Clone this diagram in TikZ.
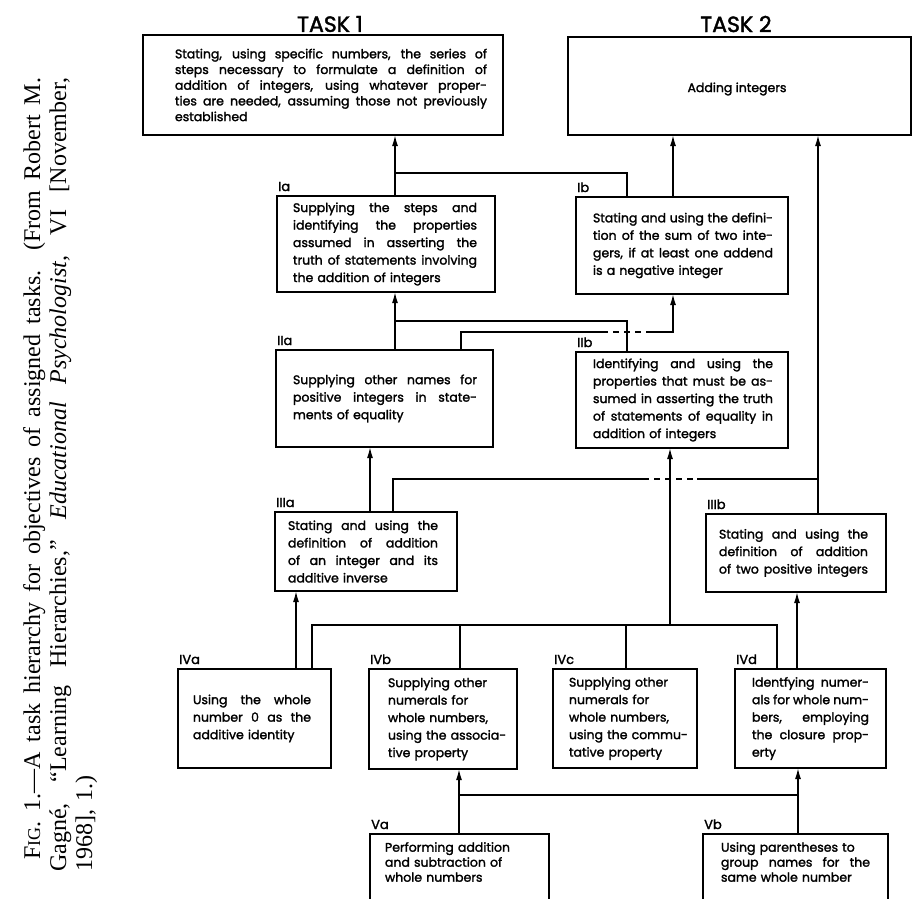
\documentclass[tikz,border=0pt]{standalone}
\usepackage{fontspec}
\setmainfont{Poppins}[FakeBold=1.8]
\newfontfamily\capfont{Liberation Serif}
\usetikzlibrary{arrows.meta}
\newcommand\jline[1]{\makebox[\hsize][s]{\spaceskip=0pt\xspaceskip=0pt #1}\\}
\newcommand\jlast[1]{\makebox[\hsize][s]{\spaceskip=0pt\xspaceskip=0pt #1}}
\tikzset{
  box/.style={draw, line width=1.8pt, inner sep=0pt, outer sep=0pt},
  txt/.style={inner sep=0pt, align=left, execute at begin node={\parindent=0pt},
              font=\fontsize{12.5}{17.5}\selectfont},
  lbl/.style={inner sep=0pt, anchor=base west, font=\fontsize{13}{13}\selectfont},
  conn/.style={line width=1.5pt},
  arr/.style={conn, -{Latex[length=11pt,width=6pt]}},
  dsh/.style={conn, dash pattern=on 6pt off 5pt},
  tasklbl/.style={inner sep=0pt, font=\fontsize{22}{22}\selectfont},
}
\begin{document}
\begin{tikzpicture}[x=1pt,y=-1pt]
\useasboundingbox (0,0) rectangle (914,899);
\fill[white] (0,0) rectangle (914,899);
\clip (0,0) rectangle (914,899);

% caption
\node[rotate=90, anchor=north west, inner sep=0pt, text width=794pt, align=left,
      execute at begin node={\parindent=0pt},
      font=\capfont\fontsize{24}{26}\selectfont] (cap) at (23,872)
{\jline{\hspace*{12pt}F{\fontsize{18}{18}\selectfont IG}. 1.—A task hierarchy for objectives of assigned tasks. (From Robert M.}
\jline{Gagné, “Learning Hierarchies,” \textit{Educational Psychologist,} VI [November,}
1968], 1.)};

% task titles
\node[tasklbl] (t1lab) at (330,24) {TASK 1};
\node[tasklbl] (t2lab) at (736,24) {TASK 2};

% boxes
\node[box, minimum width=360pt, minimum height=100pt] (T1) at (323,85) {};
\node[txt, text width=312pt, font=\fontsize{12.5}{15.7}\selectfont] (T1t) at (331,85)
{\jline{Stating, using specific numbers, the series of}
\jline{steps necessary to formulate a definition of}
\jline{addition of integers, using whatever proper-}
\jline{ties are needed, assuming those not previously}
established};

\node[box, minimum width=343pt, minimum height=98pt] (T2) at (739.5,86) {};
\node[txt] (T2t) at (737,89) {Adding integers};

\node[box, minimum width=218pt, minimum height=96pt] (Ia) at (386,244) {};
\node[txt, text width=184pt] (Iat) at (385,244)
{\jline{Supplying the steps and}
\jline{identifying the properties}
\jline{assumed in asserting the}
\jline{truth of statements involving}
the addition of integers};

\node[box, minimum width=212pt, minimum height=97pt] (Ib) at (682,245.5) {};
\node[txt, text width=180pt] (Ibt) at (683,245.5)
{\jline{Stating and using the defini-}
\jline{tion of the sum of two inte-}
\jline{gers, if at least one addend}
is a negative integer};

\node[box, minimum width=217pt, minimum height=97pt] (IIa) at (384.5,398.5) {};
\node[txt, text width=184pt] (IIat) at (385,398.5)
{\jline{Supplying other names for}
\jline{positive integers in state-}
ments of equality};

\node[box, minimum width=212pt, minimum height=96pt] (IIb) at (682,400) {};
\node[txt, text width=180pt] (IIbt) at (683,400)
{\jline{Identifying and using the}
\jline{properties that must be as-}
\jline{sumed in asserting the truth}
\jline{of statements of equality in}
addition of integers};

\node[box, minimum width=182pt, minimum height=79pt] (IIIa) at (366,551.5) {};
\node[txt, text width=150pt] (IIIat) at (363,551.5)
{\jline{Stating and using the}
\jline{definition of addition}
\jline{of an integer and its}
additive inverse};

\node[box, minimum width=180pt, minimum height=78pt] (IIIb) at (796,553) {};
\node[txt, text width=149pt] (IIIbt) at (793.5,553)
{\jline{Stating and using the}
\jline{definition of addition}
\jlast{of two positive integers}};

\node[box, minimum width=153pt, minimum height=99pt] (IVa) at (254.5,718.5) {};
\node[txt, text width=118pt] (IVat) at (252,718.5)
{\jline{Using the whole}
\jline{number 0 as the}
additive identity};

\node[box, minimum width=148pt, minimum height=100pt] (IVb) at (443,719) {};
\node[txt, text width=126pt] (IVbt) at (451,719)
{Supplying other\\
numerals for\\
whole numbers,\\
using the associa-\\
tive property};

\node[box, minimum width=144pt, minimum height=99pt] (IVc) at (625,718.5) {};
\node[txt, text width=124pt] (IVct) at (631,718.5)
{Supplying other\\
numerals for\\
whole numbers,\\
using the commu-\\
tative property};

\node[box, minimum width=151pt, minimum height=99pt] (IVd) at (810.5,718.5) {};
\node[txt, text width=117pt] (IVdt) at (810.5,718.5)
{\jline{Identfying numer-}
\jline{als for whole num-}
\jline{bers, employing}
\jline{the closure prop-}
erty};

\node[box, minimum width=179pt, minimum height=96pt] (Va) at (459.5,882) {};
\node[txt, text width=145pt, font=\fontsize{12.5}{15}\selectfont] (Vat) at (457.5,862)
{Performing addition\\
and subtraction of\\
whole numbers};

\node[box, minimum width=185pt, minimum height=96pt] (Vb) at (795.5,882) {};
\node[txt, text width=149pt, font=\fontsize{12.5}{15}\selectfont] (Vbt) at (795.5,862)
{Using parentheses to\\
\jline{group names for the}
same whole number};

% labels
\node[lbl] (Ial) at ([shift={(1,-5)}]Ia.north west) {Ia};
\node[lbl] (Ibl) at ([shift={(1,-5)}]Ib.north west) {Ib};
\node[lbl] (IIal) at ([shift={(1,-5)}]IIa.north west) {IIa};
\node[lbl] (IIbl) at ([shift={(1,-5)}]IIb.north west) {IIb};
\node[lbl] (IIIal) at ([shift={(1,-5)}]IIIa.north west) {IIIa};
\node[lbl] (IIIbl) at ([shift={(1,-5)}]IIIb.north west) {IIIb};
\node[lbl] (IVal) at ([shift={(1,-5)}]IVa.north west) {IVa};
\node[lbl] (IVbl) at ([shift={(1,-5)}]IVb.north west) {IVb};
\node[lbl] (IVcl) at ([shift={(1,-5)}]IVc.north west) {IVc};
\node[lbl] (IVdl) at ([shift={(1,-5)}]IVd.north west) {IVd};
\node[lbl] (Val) at ([shift={(1,-5)}]Va.north west) {Va};
\node[lbl] (Vbl) at ([shift={(1,-5)}]Vb.north west) {Vb};

% columns and rows
\coordinate (x296) at (296,0);
\coordinate (x312) at (312,0);
\coordinate (x370) at (370,0);
\coordinate (x393) at (393,0);
\coordinate (x395) at (395,0);
\coordinate (x459) at (459,0);
\coordinate (x460) at (460,0);
\coordinate (x461) at (461,0);
\coordinate (x602) at (602,0);
\coordinate (x626) at (626,0);
\coordinate (x627) at (627,0);
\coordinate (x643) at (643,0);
\coordinate (x652) at (652,0);
\coordinate (x670) at (670,0);
\coordinate (x673) at (673,0);
\coordinate (x697) at (697,0);
\coordinate (x777) at (777,0);
\coordinate (x797) at (797,0);
\coordinate (x798) at (798,0);
\coordinate (x818) at (818,0);
\coordinate (y173) at (0,173);
\coordinate (y321) at (0,321);
\coordinate (y332) at (0,332);
\coordinate (y479) at (0,479);
\coordinate (y625) at (0,625);
\coordinate (y795) at (0,795);

% connectors
\draw[arr] (Ia.north -| x395) -- (T1.south -| x395);
\draw[conn] (Ib.north -| x627) |- (y173 -| x395);
\draw[arr] (Ib.north -| x673) -- (T2.south -| x673);
\draw[arr] (IIa.north -| x395) -- (Ia.south -| x395);
\draw[conn] (IIb.north -| x627) |- (y321 -| x395);
\draw[conn] (IIa.north -| x461) |- (y332 -| x602);
\draw[dsh] (y332 -| x602) -- (y332 -| x652);
\draw[arr] (y332 -| x652) -| (Ib.south -| x673);
\draw[arr] (IIIa.north -| x370) -- (IIa.south -| x370);
\draw[conn] (IIIa.north -| x393) |- (y479 -| x643);
\draw[dsh] (y479 -| x643) -- (y479 -| x697);
\draw[conn] (y479 -| x697) -- (y479 -| x818);
\draw[arr] (IIIb.north -| x818) -- (T2.south -| x818);
\draw[arr] (y625 -| x670) -- (IIb.south -| x670);
\draw[conn] (IVa.north -| x312) |- (y625 -| x777) -- (IVd.north -| x777);
\draw[conn] (IVb.north -| x460) -- (y625 -| x460);
\draw[conn] (IVc.north -| x626) -- (y625 -| x626);
\draw[arr] (IVa.north -| x296) -- (IIIa.south -| x296);
\draw[arr] (IVd.north -| x797) -- (IIIb.south -| x797);
\draw[arr] (Va.north -| x459) -- (IVb.south -| x459);
\draw[arr] (Vb.north -| x798) -- (IVd.south -| x798);
\draw[conn] (y795 -| x459) -- (y795 -| x798);
\end{tikzpicture}
\end{document}
